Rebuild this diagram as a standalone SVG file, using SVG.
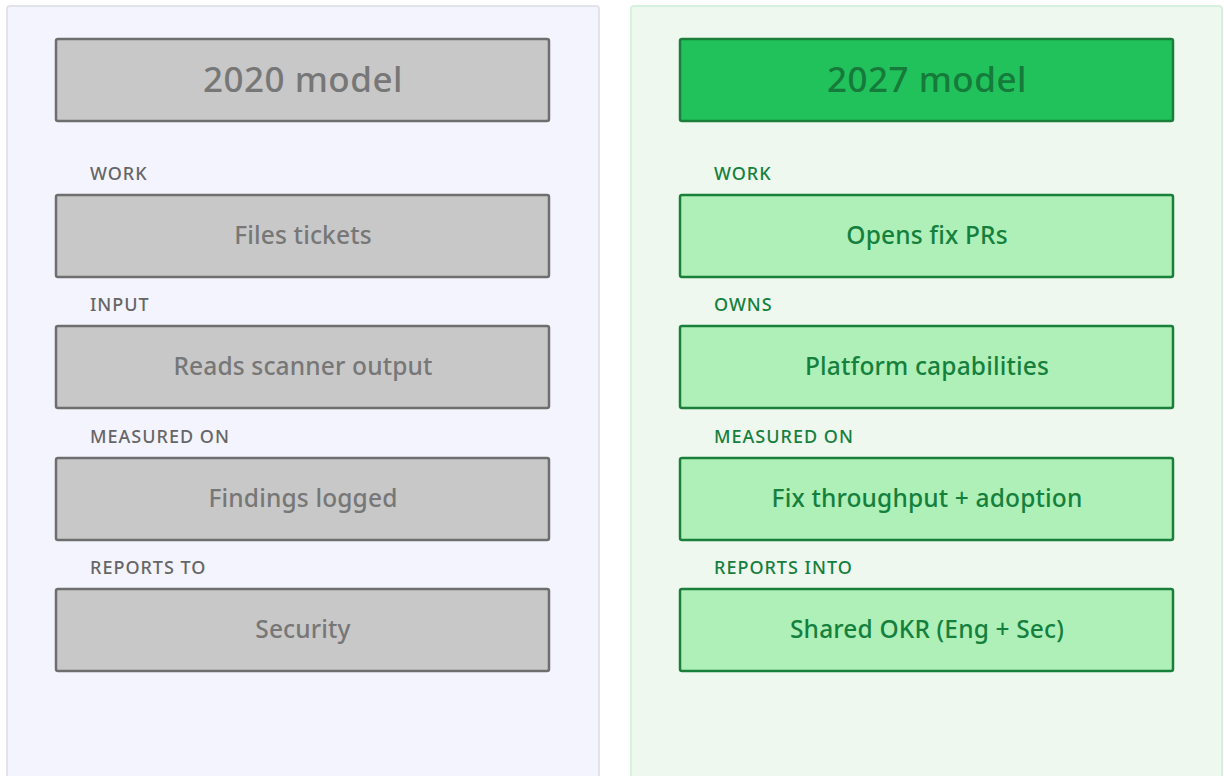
<svg xmlns="http://www.w3.org/2000/svg" width="1224" height="776" viewBox="0 0 1224 776">
<style>
text{font-family:"Noto Sans","Open Sans",sans-serif;text-anchor:middle;font-weight:500}
.lbl{font-size:18px;text-anchor:start;letter-spacing:1px}
.hd{font-size:35px;letter-spacing:0.5px}
.tx{font-size:24.5px;letter-spacing:0.15px}
.gbox{fill:#c8c8c8;stroke:#6e6e6e;stroke-width:2.5}
.gt{fill:#777777}
.gl{fill:#666666}
.ghd{fill:#c8c8c8;stroke:#6e6e6e;stroke-width:2.5}
.nbox{fill:#aef0b8;stroke:#1a7f3a;stroke-width:2.5}
.nhd{fill:#21c25b;stroke:#1a7f3a;stroke-width:2.5}
.nt{fill:#15803d}
.nht{fill:#157a3a}
</style>
<rect width="1224" height="776" fill="#ffffff"/>
<g id="panel-2020">
<rect x="7" y="6" width="592" height="790" rx="3" fill="#f4f4fe" stroke="#e3e3ec" stroke-width="2"/>
</g>
<g id="panel-2027">
<rect x="631" y="6" width="591" height="790" rx="3" fill="#eef8ef" stroke="#d6f2de" stroke-width="2"/>
</g>
<g id="n2020-header"><rect class="ghd" x="56" y="39" width="493" height="82" rx="2"/><text class="hd gt" x="303" y="92">2020 model</text></g>
<g id="n2020-work"><text class="lbl gl" x="90" y="180">WORK</text><rect class="gbox" x="56" y="195" width="493" height="82" rx="2"/><text class="tx gt" x="303" y="244">Files tickets</text></g>
<g id="n2020-input"><text class="lbl gl" x="90" y="311">INPUT</text><rect class="gbox" x="56" y="326" width="493" height="82" rx="2"/><text class="tx gt" x="303" y="375">Reads scanner output</text></g>
<g id="n2020-measured"><text class="lbl gl" x="90" y="443">MEASURED ON</text><rect class="gbox" x="56" y="458" width="493" height="82" rx="2"/><text class="tx gt" x="303" y="507">Findings logged</text></g>
<g id="n2020-reports"><text class="lbl gl" x="90" y="574">REPORTS TO</text><rect class="gbox" x="56" y="589" width="493" height="82" rx="2"/><text class="tx gt" x="303" y="638">Security</text></g>
<g id="n2027-header"><rect class="nhd" x="680" y="39" width="493" height="82" rx="2"/><text class="hd nht" x="927" y="92">2027 model</text></g>
<g id="n2027-work"><text class="lbl nt" x="714" y="180">WORK</text><rect class="nbox" x="680" y="195" width="493" height="82" rx="2"/><text class="tx nt" x="927" y="244">Opens fix PRs</text></g>
<g id="n2027-owns"><text class="lbl nt" x="714" y="311">OWNS</text><rect class="nbox" x="680" y="326" width="493" height="82" rx="2"/><text class="tx nt" x="927" y="375">Platform capabilities</text></g>
<g id="n2027-measured"><text class="lbl nt" x="714" y="443">MEASURED ON</text><rect class="nbox" x="680" y="458" width="493" height="82" rx="2"/><text class="tx nt" x="927" y="507">Fix throughput + adoption</text></g>
<g id="n2027-reports"><text class="lbl nt" x="714" y="574">REPORTS INTO</text><rect class="nbox" x="680" y="589" width="493" height="82" rx="2"/><text class="tx nt" x="927" y="638">Shared OKR (Eng + Sec)</text></g>
<g id="connectors"></g>
</svg>
